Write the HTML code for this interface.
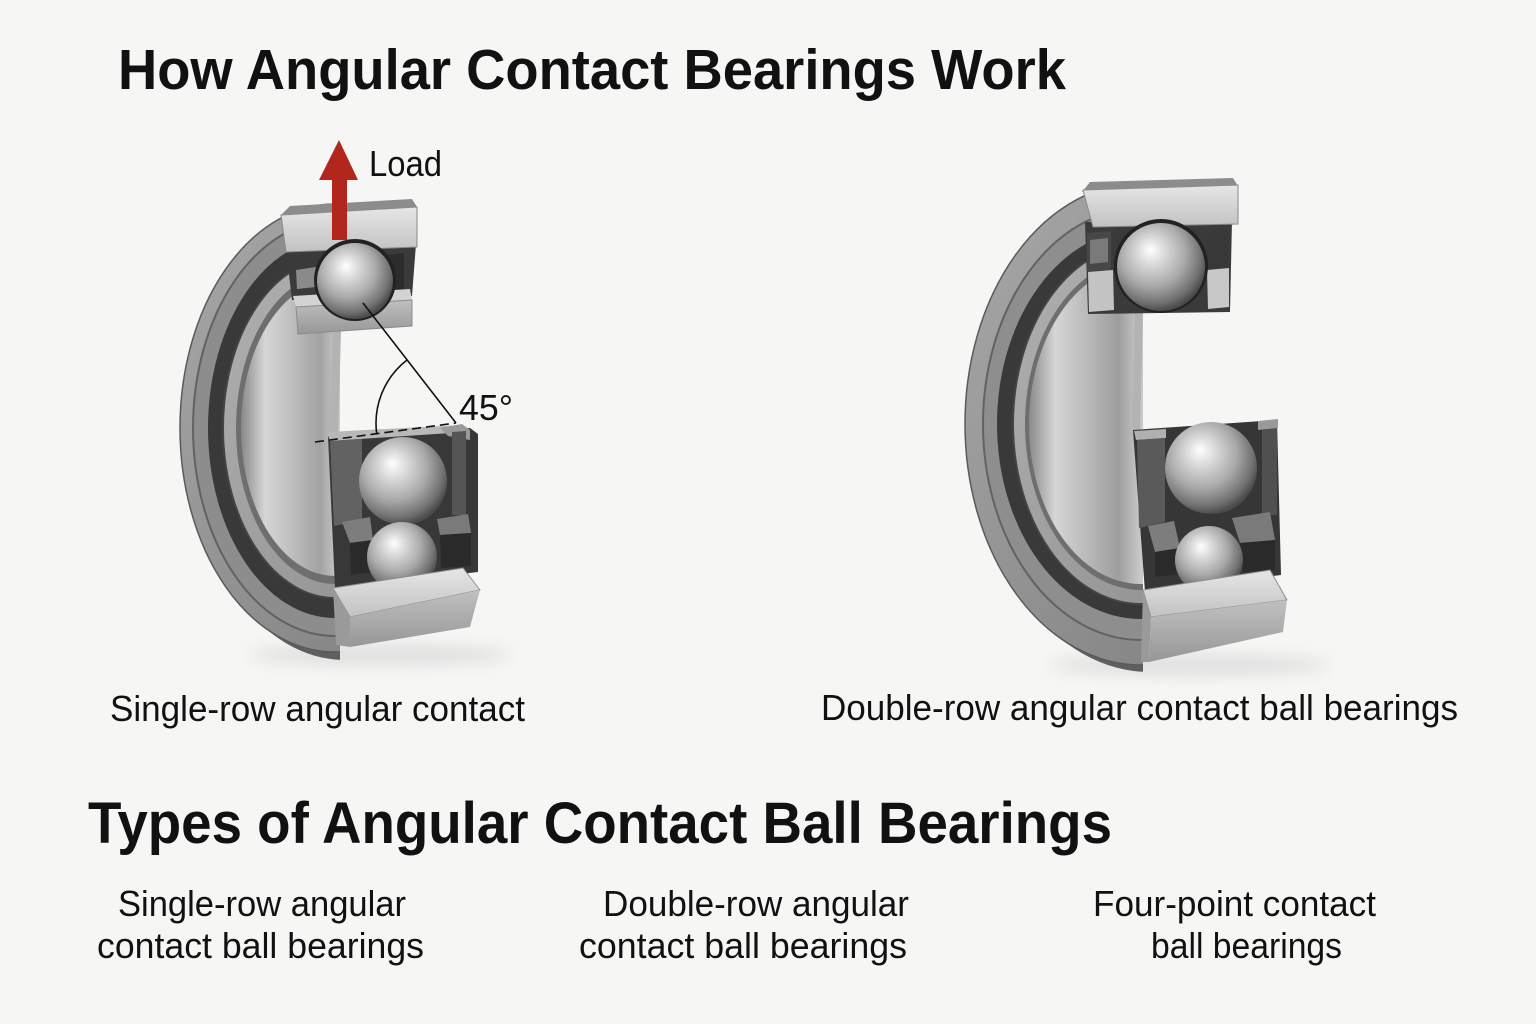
<!DOCTYPE html>
<html><head><meta charset="utf-8"><style>
html,body{margin:0;padding:0;background:#f6f6f4;}
svg{display:block}
text{font-family:"Liberation Sans",Arial,sans-serif;fill:#111}
</style></head><body>
<svg width="1536" height="1024" viewBox="0 0 1536 1024" xmlns="http://www.w3.org/2000/svg">
<defs>
  <linearGradient id="ringG" x1="0" y1="0" x2="1" y2="1">
    <stop offset="0" stop-color="#a8a8a8"/><stop offset="0.5" stop-color="#929292"/><stop offset="1" stop-color="#7c7c7c"/>
  </linearGradient>
  <linearGradient id="innerG" x1="0" y1="0" x2="1" y2="1">
    <stop offset="0" stop-color="#b0b0b0"/><stop offset="1" stop-color="#8e8e8e"/>
  </linearGradient>
  <linearGradient id="boreL" gradientUnits="userSpaceOnUse" x1="240" y1="0" x2="340" y2="0">
    <stop offset="0" stop-color="#858585"/><stop offset="0.25" stop-color="#d6d6d6"/><stop offset="0.5" stop-color="#c0c0c0"/><stop offset="0.8" stop-color="#a2a2a2"/><stop offset="1" stop-color="#cdcdcd"/>
  </linearGradient>
  <linearGradient id="boreR" gradientUnits="userSpaceOnUse" x1="1027" y1="0" x2="1141" y2="0">
    <stop offset="0" stop-color="#858585"/><stop offset="0.25" stop-color="#d6d6d6"/><stop offset="0.5" stop-color="#bcbcbc"/><stop offset="0.8" stop-color="#9e9e9e"/><stop offset="1" stop-color="#cacaca"/>
  </linearGradient>
  <linearGradient id="secG" x1="0" y1="0" x2="0" y2="1">
    <stop offset="0" stop-color="#e6e6e6"/><stop offset="1" stop-color="#c2c2c2"/>
  </linearGradient>
  <linearGradient id="secF" x1="0" y1="0" x2="0" y2="1">
    <stop offset="0" stop-color="#c0c0c0"/><stop offset="1" stop-color="#979797"/>
  </linearGradient>
  <radialGradient id="ballG" cx="0.42" cy="0.38" r="0.62" fx="0.38" fy="0.3">
    <stop offset="0" stop-color="#ffffff"/><stop offset="0.25" stop-color="#dadada"/><stop offset="0.6" stop-color="#a9a9a9"/><stop offset="0.88" stop-color="#707070"/><stop offset="1" stop-color="#4c4c4c"/>
  </radialGradient>
  <filter id="blur" x="-50%" y="-200%" width="200%" height="500%"><feGaussianBlur stdDeviation="8"/></filter>
  <clipPath id="clipL"><rect x="0" y="0" width="340" height="1024"/></clipPath>
  <clipPath id="clipR"><rect x="0" y="0" width="1143" height="1024"/></clipPath>
</defs>
<rect width="1536" height="1024" fill="#f6f6f4"/>

<!-- Titles -->
<text x="118" y="89" font-size="57" font-weight="bold" textLength="948" lengthAdjust="spacingAndGlyphs">How Angular Contact Bearings Work</text>
<text x="88" y="843" font-size="58" font-weight="bold" textLength="1024" lengthAdjust="spacingAndGlyphs">Types of Angular Contact Ball Bearings</text>

<!-- ================= LEFT BEARING ================= -->
<ellipse cx="380" cy="655" rx="130" ry="10" fill="#dedede" filter="url(#blur)"/>
<g clip-path="url(#clipL)">
  <ellipse cx="345" cy="436" rx="155" ry="224" fill="#5f5f5f"/>
  <ellipse cx="335" cy="428" rx="155" ry="224" fill="url(#ringG)" stroke="#5a5a5a" stroke-width="1.5"/>
  <ellipse cx="335" cy="428" rx="142" ry="208" fill="#8d8d8d" stroke="#626262" stroke-width="2"/>
  <ellipse cx="335" cy="428" rx="127" ry="190" fill="#393939"/>
  <ellipse cx="335" cy="428" rx="112" ry="170" fill="url(#innerG)" stroke="#444" stroke-width="2"/>
  <ellipse cx="335" cy="428" rx="99" ry="156" fill="#6e6e6e"/>
  <ellipse cx="335" cy="428" rx="94" ry="148" fill="url(#boreL)"/>
</g>
<!-- inner ring cut edge -->
<path d="M333 330 L341 330 L338 440 L329 440 Z" fill="#b3b3b3"/>

<!-- top: dark area behind ball -->
<polygon points="286,248 416,244 412,296 292,300" fill="#3a3a3a"/>
<!-- top outer ring section -->
<polygon points="280,216 290,206 412,199 417,207" fill="#8c8c8c"/>
<polygon points="281,215 417,207 417,247 286,252" fill="url(#secG)" stroke="#8a8a8a" stroke-width="1"/>
<!-- cage pieces top -->
<polygon points="293,262 318,258 318,298 294,300" fill="#3a3a3a"/>
<polygon points="296,270 316,267 316,287 297,289" fill="#8a8a8a"/>
<polygon points="388,255 404,253 404,296 388,298" fill="#2c2c2c"/>
<!-- inner ring top section -->
<polygon points="293,296 410,289 412,300 296,307" fill="#d3d3d3"/>
<polygon points="296,307 412,300 412,326 298,334" fill="url(#secF)" stroke="#8a8a8a" stroke-width="1"/>
<!-- top ball -->
<circle cx="355" cy="280" r="41" fill="#222"/>
<circle cx="355" cy="281" r="38" fill="url(#ballG)"/>
<!-- load arrow -->
<polygon points="339,140 358,180 347,180 347,240 332,240 332,180 319,180" fill="#b3261e"/>
<text x="369" y="176" font-size="36" textLength="73" lengthAdjust="spacingAndGlyphs">Load</text>

<!-- bottom cage/dark -->
<polygon points="328,436 470,428 478,434 478,572 335,588" fill="#383838"/>
<polygon points="327,432 462,425 466,432 330,441" fill="#b8b8b8"/>
<polygon points="440,428 462,424 470,430 470,440 448,436" fill="#9a9a9a"/>
<polygon points="330,441 362,439 362,520 334,526" fill="#626262"/>
<polygon points="452,432 466,431 466,515 452,515" fill="#555"/>
<!-- upper bottom ball -->
<circle cx="403" cy="481" r="44" fill="url(#ballG)"/>
<!-- wings -->
<polygon points="342,522 370,517 373,540 350,543" fill="#7d7d7d"/>
<polygon points="350,543 373,540 374,572 351,575" fill="#2a2a2a"/>
<polygon points="437,519 468,514 471,533 440,535" fill="#7a7a7a"/>
<polygon points="440,535 471,533 471,566 441,568" fill="#2a2a2a"/>
<!-- lower ball -->
<circle cx="402" cy="557" r="35" fill="url(#ballG)"/>
<!-- outer ring bottom section -->
<polygon points="333,588 463,568 480,590 350,617" fill="url(#secG)" stroke="#8e8e8e" stroke-width="1"/>
<polygon points="333,588 350,617 350,647 336,645" fill="#9a9a9a"/>
<polygon points="350,617 480,590 470,627 350,647" fill="url(#secF)"/>

<!-- angle construction -->
<line x1="363" y1="303" x2="456" y2="423" stroke="#111" stroke-width="1.6"/>
<line x1="315" y1="442" x2="456" y2="423" stroke="#111" stroke-width="1.6" stroke-dasharray="9 5"/>
<path d="M407 360 A80 80 0 0 0 376.7 433.7" fill="none" stroke="#111" stroke-width="1.6"/>
<text x="459" y="420" font-size="36" textLength="54" lengthAdjust="spacingAndGlyphs">45°</text>

<!-- ================= RIGHT BEARING ================= -->
<ellipse cx="1190" cy="665" rx="140" ry="10" fill="#dedede" filter="url(#blur)"/>
<g clip-path="url(#clipR)">
  <ellipse cx="1150" cy="431" rx="176" ry="241" fill="#5f5f5f"/>
  <ellipse cx="1141" cy="424" rx="176" ry="241" fill="url(#ringG)" stroke="#5a5a5a" stroke-width="1.5"/>
  <ellipse cx="1141" cy="424" rx="158" ry="216" fill="#8e8e8e" stroke="#626262" stroke-width="2"/>
  <ellipse cx="1141" cy="424" rx="144" ry="195" fill="#393939"/>
  <ellipse cx="1141" cy="424" rx="128" ry="180" fill="url(#innerG)" stroke="#444" stroke-width="2"/>
  <ellipse cx="1141" cy="424" rx="116" ry="166" fill="#6e6e6e"/>
  <ellipse cx="1141" cy="424" rx="112" ry="160" fill="url(#boreR)"/>
</g>
<path d="M1135 308 L1143 308 L1140 436 L1132 436 Z" fill="#b3b3b3"/>

<!-- top dark area -->
<polygon points="1085,222 1232,220 1230,312 1088,314" fill="#3a3a3a"/>
<!-- top outer ring section -->
<polygon points="1082,192 1090,182 1233,178 1238,186" fill="#8c8c8c"/>
<polygon points="1083,190 1238,185 1238,224 1093,227" fill="url(#secG)" stroke="#8a8a8a" stroke-width="1"/>
<!-- cage pieces top -->
<polygon points="1087,233 1111,231 1111,270 1087,272" fill="#474747"/>
<polygon points="1090,240 1108,238 1108,262 1090,264" fill="#7a7a7a"/>
<polygon points="1088,272 1113,270 1114,310 1089,312" fill="#c4c4c4"/>
<polygon points="1207,233 1228,231 1228,268 1207,270" fill="#383838"/>
<polygon points="1207,270 1229,268 1229,307 1208,309" fill="#c8c8c8"/>
<!-- top ball -->
<circle cx="1161" cy="266" r="47" fill="#222"/>
<circle cx="1161" cy="267" r="44" fill="url(#ballG)"/>

<!-- bottom dark -->
<polygon points="1133,430 1277,420 1281,575 1145,592" fill="#363636"/>
<polygon points="1134,431 1166,429 1166,438 1136,440" fill="#b0b0b0"/>
<polygon points="1258,421 1278,419 1278,428 1258,430" fill="#9a9a9a"/>
<polygon points="1137,440 1165,438 1165,522 1139,528" fill="#5a5a5a"/>
<polygon points="1262,430 1277,428 1277,515 1262,515" fill="#505050"/>
<!-- upper bottom ball -->
<circle cx="1211" cy="468" r="46" fill="url(#ballG)"/>
<!-- wings -->
<polygon points="1148,526 1174,521 1180,548 1155,552" fill="#7d7d7d"/>
<polygon points="1155,552 1180,548 1180,574 1155,577" fill="#2a2a2a"/>
<polygon points="1232,518 1270,512 1275,540 1240,543" fill="#7a7a7a"/>
<polygon points="1240,543 1275,540 1275,570 1243,572" fill="#2a2a2a"/>
<!-- lower ball -->
<circle cx="1209" cy="560" r="34" fill="url(#ballG)"/>
<!-- outer ring bottom section -->
<polygon points="1143,590 1270,570 1287,600 1151,617" fill="url(#secG)" stroke="#8e8e8e" stroke-width="1"/>
<polygon points="1143,590 1151,617 1149,662 1141,662" fill="#9a9a9a"/>
<polygon points="1151,617 1287,600 1283,632 1149,662" fill="url(#secF)"/>

<!-- Labels -->
<text x="110" y="721" font-size="36" textLength="415" lengthAdjust="spacingAndGlyphs">Single-row angular contact</text>
<text x="821" y="720" font-size="36" textLength="637" lengthAdjust="spacingAndGlyphs">Double-row angular contact ball bearings</text>

<text x="118" y="916" font-size="36" textLength="288" lengthAdjust="spacingAndGlyphs">Single-row angular</text>
<text x="97" y="958" font-size="36" textLength="327" lengthAdjust="spacingAndGlyphs">contact ball bearings</text>
<text x="603" y="916" font-size="36" textLength="306" lengthAdjust="spacingAndGlyphs">Double-row angular</text>
<text x="579" y="958" font-size="36" textLength="328" lengthAdjust="spacingAndGlyphs">contact ball bearings</text>
<text x="1093" y="916" font-size="36" textLength="283" lengthAdjust="spacingAndGlyphs">Four-point contact</text>
<text x="1151" y="958" font-size="36" textLength="191" lengthAdjust="spacingAndGlyphs">ball bearings</text>
</svg>
</body></html>
